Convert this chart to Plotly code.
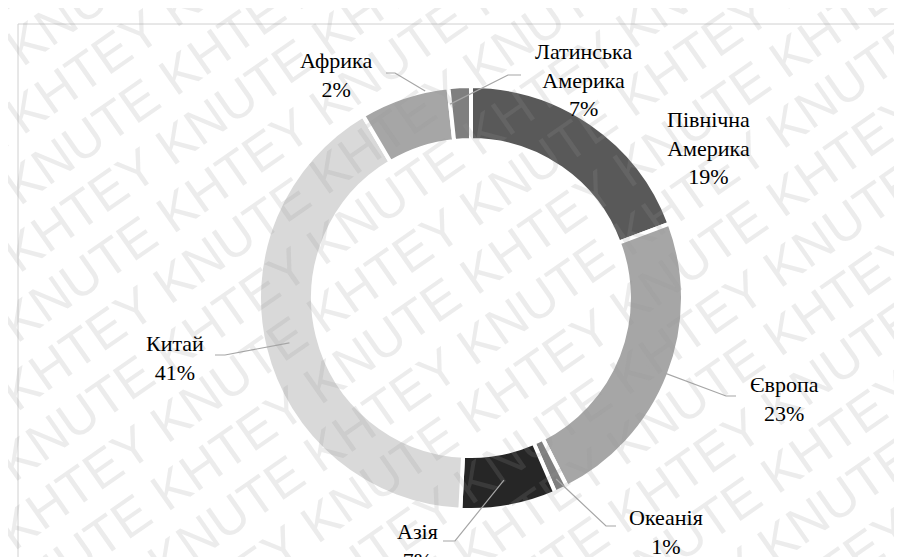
import math
import plotly.graph_objects as go

# ---------------- data ----------------
regions = ["Північна Америка", "Європа", "Океанія", "Азія", "Китай", "Африка", "Латинська Америка"]
shares = [19.3, 23.2, 1.0, 7.3, 40.7, 6.8, 1.7]
label_pct = ["19%", "23%", "1%", "7%", "41%", "2%", "7%"]

# ---------------- style / layout ----------------
slice_colors = ["#595959", "#a6a6a6", "#7f7f7f", "#262626", "#d9d9d9", "#a6a6a6", "#7f7f7f"]
W, H = 902, 557
CX, CY, R = 463, 290, 212          # donut centre / outer radius in px
HOLE = 0.745
LABEL_FONT = "Liberation Serif"

# label centres (px) and leader-line elbows (start, elbow) ; None = no leader
label_pos = [(700, 140), (776, 391), (658, 524), (409, 538), (167, 350), (328, 67), (575, 72)]
leader_pts = [None, ((728, 388), (718, 388)), ((608, 518), (598, 518)), ((435, 533), (447, 533)),
              ((207, 347), (217, 347)), ((378, 65), (387, 65)), ((513, 67), (500, 67))]
leader_frac = [0.5, 0.5, 0.5, 0.5, 0.5, 0.74, 0.0]   # where in the slice the leader ends
leader_r = [185, 188, 200, 185, 187, 212, 195]


def px(x):
    return x / W


def py(y):
    return 1 - y / H


fig = go.Figure()
fig.add_trace(go.Pie(
    labels=regions, values=shares, sort=False, direction="clockwise", rotation=0,
    hole=HOLE, textinfo="none", hoverinfo="label+percent",
    marker=dict(colors=slice_colors, line=dict(color="white", width=4)),
    domain=dict(x=[px(CX - R), px(CX + R)], y=[py(CY + R), py(CY - R)]),
    showlegend=False,
))

# ---------------- watermark ----------------
annotations = []
ang = math.radians(35)
ux, uy = math.cos(ang), -math.sin(ang)
vx, vy = math.sin(ang), math.cos(ang)
period = 378
wm_text = " ".join(["KNUTE KHTEY"] * 8)
for k in range(-11, 12):
    off = (148 * k) % period - period / 2
    cx = W / 2 + k * 56 * vx + off * ux
    cy = H / 2 + k * 56 * vy + off * uy
    annotations.append(dict(
        x=px(cx), y=py(cy), xref="paper", yref="paper", text=wm_text, showarrow=False,
        textangle=-35, xanchor="center", yanchor="middle",
        font=dict(family="Liberation Sans", size=52, color="rgba(150,150,150,0.18)"),
    ))

# ---------------- leader lines ----------------
shapes = []
total = sum(shares)
cum = 0.0
for i, v in enumerate(shares):
    a0 = cum / total * 360
    a1 = (cum + v) / total * 360
    cum += v
    if leader_pts[i] is None:
        continue
    th = math.radians(a0 + leader_frac[i] * (a1 - a0))
    ex = CX + leader_r[i] * math.sin(th)
    ey = CY - leader_r[i] * math.cos(th)
    (sx, sy), (bx, by) = leader_pts[i]
    path = f"M {px(sx)} {py(sy)} L {px(bx)} {py(by)} L {px(ex)} {py(ey)}"
    shapes.append(dict(type="path", path=path, xref="paper", yref="paper",
                       line=dict(color="#a6a6a6", width=1.2)))

# chart-area border (top & left visible)
shapes.append(dict(type="line", xref="paper", yref="paper", x0=px(10), x1=1.05, y0=py(16), y1=py(16),
                   line=dict(color="#d0d0d0", width=1)))
shapes.append(dict(type="line", xref="paper", yref="paper", x0=px(10), x1=px(10), y0=py(16), y1=-0.05,
                   line=dict(color="#d0d0d0", width=1)))

# ---------------- data labels ----------------
for i, name in enumerate(regions):
    lx, ly = label_pos[i]
    annotations.append(dict(
        x=px(lx), y=py(ly), xref="paper", yref="paper", showarrow=False,
        text=name.replace(" ", "<br>") + "<br>" + label_pct[i],
        xanchor="center", yanchor="middle", align="center",
        font=dict(family=LABEL_FONT, size=22, color="#000000"),
    ))

fig.update_layout(
    width=W, height=H, margin=dict(l=0, r=0, t=0, b=0),
    paper_bgcolor="white", plot_bgcolor="white",
    annotations=annotations, shapes=shapes,
)

fig.write_html("out.html")
